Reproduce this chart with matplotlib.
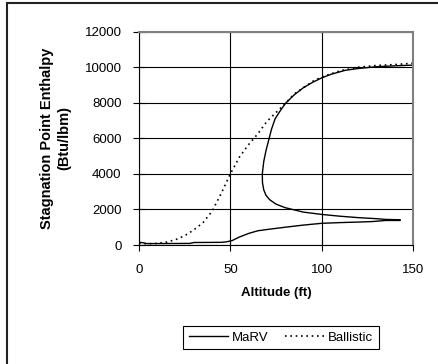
import matplotlib
matplotlib.use('Agg')
import matplotlib.pyplot as plt
from matplotlib.patches import Rectangle

# MaRV trajectory (altitude ft, enthalpy Btu/lbm)
marv_alt = [150, 140, 130, 120, 113, 105, 100, 95, 90, 85, 80, 77, 74.5, 72.5, 71, 69.5, 68.3, 67.5,
            67.6, 68.3, 69.5, 71.5, 75, 80, 90, 100, 110, 120, 130, 135, 143,
            143, 135, 128, 120, 110, 100, 90, 80, 70, 65, 60, 55, 51, 48, 45, 30, 28, 10, 4, 2, 0]
marv_h = [10120, 10080, 10030, 9930, 9830, 9600, 9400, 9150, 8850, 8450, 7950, 7500, 7100, 6500, 5900, 5300, 4700, 4000,
          3500, 3100, 2800, 2550, 2300, 2100, 1850, 1720, 1620, 1540, 1480, 1440, 1420,
          1380, 1380, 1320, 1290, 1260, 1220, 1120, 1000, 870, 800, 650, 450, 250, 180, 150, 140, 90, 80, 80, 130, 150]

# Ballistic trajectory
ball_alt = [0, 5, 10, 15, 20, 25, 30, 35, 40, 45, 50, 55, 60, 65, 70, 75, 80, 85, 90, 95, 100, 110, 120, 130, 140, 150]
ball_h = [100, 70, 90, 160, 300, 520, 850, 1250, 1900, 2900, 4000, 4950, 5650, 6250, 6950, 7450, 7950, 8500,
          8850, 9200, 9450, 9800, 10000, 10100, 10150, 10230]

plt.rcParams['font.family'] = ['Liberation Sans', 'DejaVu Sans']

fig = plt.figure(figsize=(4.38, 3.64), dpi=100)
ax = fig.add_axes([139/438, 1-245/364, (413-139)/438, (245-31.7)/364])

ax.plot(marv_alt, marv_h, color='black', lw=1.0, label='MaRV')
ax.plot(ball_alt, ball_h, color='black', lw=1.2, linestyle=(0, (1, 2.2)), label='Ballistic')

ax.set_xlim(0, 150)
ax.set_ylim(0, 12000)
ax.set_xticks([0, 50, 100, 150])
ax.set_yticks(range(0, 12001, 2000))
ax.grid(True, color='black', lw=0.8)
ax.set_axisbelow(True)
for s in ['top', 'right']:
    ax.spines[s].set_color('#808080')
    ax.spines[s].set_linewidth(1.5)
for s in ['left', 'bottom']:
    ax.spines[s].set_color('black')
    ax.spines[s].set_linewidth(0.8)
ax.tick_params(direction='inout', length=9, width=0.8, labelsize=9.5)
ax.tick_params(axis='y', pad=8)
ax.tick_params(axis='x', pad=9)

ax.set_xlabel('Altitude (ft)', fontsize=9.5, fontweight='bold', labelpad=8)
ax.set_ylabel('Stagnation Point Enthalpy\n(Btu/lbm)', fontsize=10.5, fontweight='bold', labelpad=10,
              linespacing=1.25)

leg = fig.legend(loc='center', bbox_to_anchor=(281/438, 1-337.5/364), bbox_transform=fig.transFigure,
                 ncol=2, fancybox=False, edgecolor='black', fontsize=9.5, handlelength=3,
                 columnspacing=1.2, handletextpad=0.3, borderpad=0.4, framealpha=1)
leg.get_frame().set_linewidth(0.8)

fig.patches.append(Rectangle((7/438, -0.1), 1.2, 1 - 3.3/364 + 0.1, transform=fig.transFigure,
                             fill=False, edgecolor='#222222', lw=1.5, clip_on=False))

plt.savefig('out.png', dpi=100)
